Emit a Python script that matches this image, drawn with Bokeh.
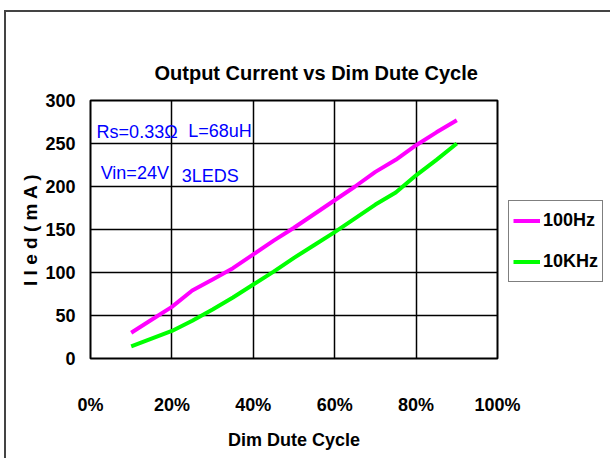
from bokeh.plotting import figure
from bokeh.models import (FixedTicker, PrintfTickFormatter, Legend, LegendItem,
                          Label, Range1d, Title, InlineStyleSheet)
from bokeh.embed import file_html
from bokeh.resources import INLINE

duty = [10, 15, 20, 25, 30, 35, 40, 45, 50, 55, 60, 65, 70, 75, 80, 85, 90]
i_100hz = [30, 45, 60, 79, 92, 105, 121, 137, 152, 168, 184, 200, 217, 231, 248, 263, 277]
i_10khz = [14, 23, 32, 44, 57, 71, 86, 101, 117, 132, 147, 163, 179, 193, 213, 231, 250]
x_ticks = [0, 20, 40, 60, 80, 100]
y_ticks = [0, 50, 100, 150, 200, 250, 300]

FONT = "Liberation Sans"

p = figure(frame_width=407, frame_height=258, output_backend="svg", toolbar_location=None,
           x_range=Range1d(0, 100), y_range=Range1d(0, 300),
           min_border_left=84, min_border_right=111, min_border_top=88,
           min_border_bottom=100)
p.stylesheets = [InlineStyleSheet(css=":host { border-left: 2px solid #444444; border-top: 2px solid #444444; margin-left: 4px; margin-top: 10px; }")]
p.title = Title(text="Output Current vs Dim Dute Cycle", align="left", offset=64,
                text_font=FONT, text_font_size="20px", text_font_style="bold",
                text_color="black", standoff=34)

p.outline_line_color = "black"
p.outline_line_width = 2
p.background_fill_color = "white"
p.border_fill_color = "white"

for ax in (p.xaxis[0], p.yaxis[0]):
    ax.axis_line_color = None
    ax.major_tick_line_color = None
    ax.minor_tick_line_color = None
    ax.major_tick_out = 0
    ax.major_tick_in = 0
    ax.minor_tick_out = 0
    ax.minor_tick_in = 0
    ax.major_label_text_font = FONT
    ax.major_label_text_font_style = "bold"
    ax.major_label_text_font_size = "18px"
    ax.major_label_text_color = "black"
    ax.axis_label_text_font = FONT
    ax.axis_label_text_font_style = "bold"
    ax.axis_label_text_color = "black"

p.xaxis.ticker = FixedTicker(ticks=x_ticks)
p.xaxis.formatter = PrintfTickFormatter(format="%d%%")
p.xaxis.major_label_standoff = 36
p.xaxis.axis_label = "Dim Dute Cycle"
p.xaxis.axis_label_text_font_size = "18px"
p.xaxis.axis_label_standoff = 12

p.yaxis.ticker = FixedTicker(ticks=y_ticks)
p.yaxis.major_label_standoff = 15
p.yaxis.axis_label = "I l e d ( m A )"
p.yaxis.axis_label_text_font_size = "19px"
p.yaxis.axis_label_standoff = 1

p.xgrid.ticker = FixedTicker(ticks=x_ticks)
p.ygrid.ticker = FixedTicker(ticks=y_ticks)
p.grid.grid_line_color = "black"
p.grid.grid_line_width = 1.5

r1 = p.line(duty, i_100hz, line_color="#ff00ff", line_width=4)
r2 = p.line(duty, i_10khz, line_color="#00ff00", line_width=4)

legend = Legend(items=[LegendItem(label="100Hz", renderers=[r1]),
                       LegendItem(label="10KHz", renderers=[r2])],
                location=(11, 76), margin=0, padding=4, spacing=10,
                glyph_width=27, glyph_height=31, label_height=31, label_standoff=3,
                label_text_font=FONT, label_text_font_style="bold",
                label_text_font_size="18px", label_text_color="black",
                border_line_color="black", border_line_width=1.5,
                background_fill_alpha=1)
p.add_layout(legend, "right")

ann = dict(text_font=FONT, text_font_size="18px", text_color="#0000ff",
           text_baseline="middle")
p.add_layout(Label(x=1.5, y=263, text="Rs=0.33Ω", **ann))
p.add_layout(Label(x=24, y=264, text="L=68uH", **ann))
p.add_layout(Label(x=2.5, y=216, text="Vin=24V", **ann))
p.add_layout(Label(x=22.4, y=212, text="3LEDS", **ann))

open("out.html", "w").write(file_html(p, INLINE))
